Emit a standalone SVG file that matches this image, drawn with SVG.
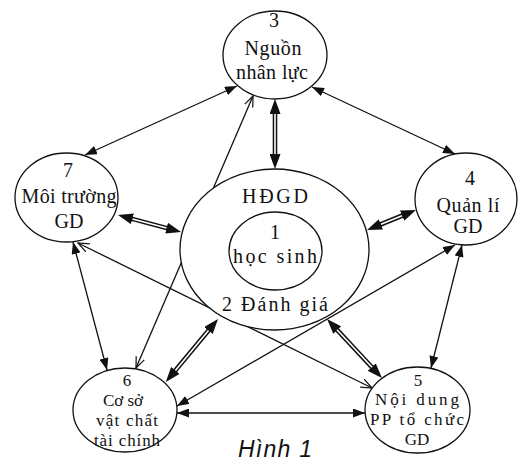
<svg xmlns="http://www.w3.org/2000/svg" width="522" height="462" viewBox="0 0 522 462">
<style>
.n{fill:#fff;stroke:#111;stroke-width:1.3}
.in{fill:none;stroke:#111;stroke-width:1.3}
.t{font-family:"Liberation Serif","DejaVu Serif",serif;font-size:20px;fill:#111;text-anchor:middle}
.u{font-size:17px}
.s{fill:none;stroke:#111;stroke-width:1.3}
.sf{marker-start:url(#af);marker-end:url(#af)}
.so{marker-start:url(#ao);marker-end:url(#ao)}
.db{fill:none;stroke:#111;stroke-width:4.6;marker-start:url(#ad);marker-end:url(#ad)}
.dw{fill:none;stroke:#fff;stroke-width:1.6}
.cap{font-family:"Liberation Sans","DejaVu Sans",sans-serif;font-style:italic;font-size:23px;fill:#111;text-anchor:middle}
</style>
<defs>
<marker id="af" viewBox="0 0 12 9" refX="12" refY="4.5" markerWidth="12" markerHeight="9" markerUnits="userSpaceOnUse" orient="auto-start-reverse"><path d="M0,0 L12,4.5 L0,9 z" fill="#111"/></marker>
<marker id="ao" viewBox="0 0 12 10" refX="11" refY="5" markerWidth="12" markerHeight="10" markerUnits="userSpaceOnUse" orient="auto-start-reverse"><path d="M0,0.5 L11,5 L0,9.5" fill="none" stroke="#111" stroke-width="1.2"/></marker>
<marker id="ad" viewBox="0 0 15 11" refX="7" refY="5.5" markerWidth="15" markerHeight="11" markerUnits="userSpaceOnUse" orient="auto-start-reverse"><path d="M0,0 L15,5.5 L0,11 z" fill="#111"/></marker>
</defs>
<rect width="522" height="462" fill="#fff"/>
<g id="connectors">
<line class="s sf" x1="237" y1="86" x2="85" y2="155"/>
<line class="s sf" x1="312" y1="87" x2="455" y2="154"/>
<line class="s so" x1="253" y1="96" x2="136" y2="368"/>
<line class="s sf" x1="73" y1="242" x2="107" y2="370"/>
<line class="s so" x1="78" y1="243" x2="372" y2="388"/>
<line class="s sf" x1="455" y1="245" x2="177" y2="406"/>
<line class="s sf" x1="462" y1="245" x2="431" y2="368"/>
<line class="s sf" x1="177" y1="413" x2="365" y2="413"/>
<line class="db" x1="275" y1="107" x2="275" y2="161"/>
<line class="dw" x1="275" y1="114" x2="275" y2="154"/>
<line class="db" x1="125.7" y1="217.1" x2="173.3" y2="229.9"/>
<line class="dw" x1="132.5" y1="218.9" x2="166.5" y2="228.1"/>
<line class="db" x1="374.4" y1="227" x2="408.6" y2="213"/>
<line class="dw" x1="381" y1="224.3" x2="402" y2="215.7"/>
<line class="db" x1="212.9" y1="325.2" x2="170.9" y2="375.8"/>
<line class="dw" x1="208.5" y1="330.6" x2="175.4" y2="370.4"/>
<line class="db" x1="332.5" y1="324.9" x2="376.5" y2="372.2"/>
<line class="dw" x1="337" y1="329.8" x2="372" y2="367.3"/>
</g>
<g id="node1">
<ellipse class="n" cx="274.5" cy="249.5" rx="94.5" ry="80.5"/>
<ellipse class="in" cx="275.5" cy="251" rx="46.5" ry="39"/>
<text class="t" x="275" y="203" textLength="66">HĐGD</text>
<text class="t" x="275" y="239">1</text>
<text class="t" x="275" y="263" textLength="84">học sinh</text>
<text class="t" x="275" y="311" textLength="106">2 Đánh giá</text>
</g>
<g id="node3">
<ellipse class="n" cx="275" cy="55" rx="52" ry="44"/>
<text class="t" x="274" y="27">3</text>
<text class="t" x="273" y="55" textLength="57">Nguồn</text>
<text class="t" x="272" y="79" textLength="72">nhân lực</text>
</g>
<g id="node7">
<ellipse class="n" cx="66.5" cy="197.5" rx="51.5" ry="44.5"/>
<text class="t" x="68" y="177">7</text>
<text class="t" x="69" y="203" textLength="95">Môi trường</text>
<text class="t" x="69" y="228">GD</text>
</g>
<g id="node4">
<ellipse class="n" cx="466" cy="199" rx="51" ry="46"/>
<text class="t" x="470" y="185">4</text>
<text class="t" x="468" y="212" textLength="63">Quản lí</text>
<text class="t" x="468" y="233">GD</text>
</g>
<g id="node6">
<ellipse class="n" cx="125" cy="410" rx="52" ry="42"/>
<text class="t u" x="127" y="386">6</text>
<text class="t u" x="123" y="406">Cơ sở</text>
<text class="t u" x="127" y="426" textLength="62">vật chất</text>
<text class="t u" x="127" y="446" textLength="66">tài chính</text>
</g>
<g id="node5">
<ellipse class="n" cx="417.5" cy="410" rx="52.5" ry="43"/>
<text class="t u" x="418" y="386">5</text>
<text class="t u" x="417" y="405" textLength="84">Nội dung</text>
<text class="t u" x="417" y="425" textLength="94">PP tổ chức</text>
<text class="t u" x="417" y="445">GD</text>
</g>
<text class="cap" x="275" y="457" textLength="74">Hình 1</text>
</svg>
